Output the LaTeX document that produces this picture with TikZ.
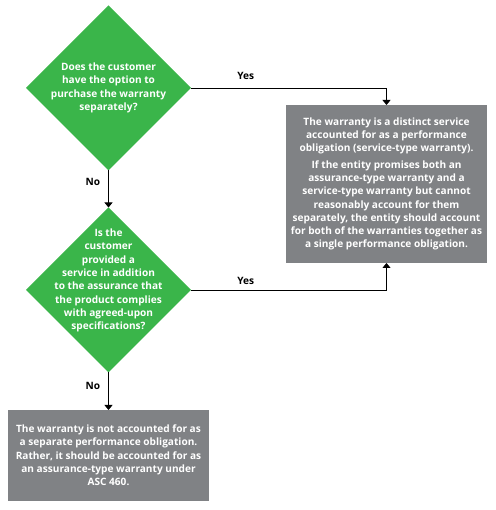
\documentclass[tikz,border=0pt]{standalone}
\usepackage{fontspec}
\setmainfont{Open Sans}
\usetikzlibrary{positioning,arrows.meta,shapes.geometric}
\definecolor{dgreen}{HTML}{3AB54A}
\definecolor{dgray}{HTML}{808285}
\tikzset{q/.style={diamond,fill=dgreen,minimum width=165pt,minimum height=165pt,inner sep=0pt},
            qt/.style={text=white,align=center,inner sep=0pt,font=\bfseries\fontsize{10.1}{13.3}\selectfont},
            r/.style={rectangle,fill=dgray,text=white,align=center,inner sep=0pt,font=\bfseries\fontsize{10.1}{13.3}\selectfont},
            lbl/.style={font=\bfseries\fontsize{10.1}{12}\selectfont},
            arr/.style={-{Triangle[width=8pt,length=5pt]},line width=0.9pt}, outer sep=0pt}

\begin{document}
\begin{tikzpicture}[x=1pt,y=1pt]
\useasboundingbox (0,0) rectangle (495,510);
\node[q] at (108.5,422)(1){};
\node[qt] at (1)(1t){Does the customer\\have the option to\\purchase the warranty\\separately?};
\node[q] at (108.5,220)(2){};
\node[qt] at (108.5,229.5)(2t){Is the\\customer\\provided a\\service in addition\\to the assurance that\\the product complies\\with agreed-upon\\specifications?};
\node[r, minimum width=201pt, minimum height=158pt] at (386.5,326)(3){The warranty is a distinct service\\accounted for as a performance\\obligation (service-type warranty).\\[3pt]If the entity promises both an\\assurance-type warranty and a\\service-type warranty but cannot\\reasonably account for them\\separately, the entity should account\\for both of the warranties together as\\a single performance obligation.};
\node[r, minimum width=201pt, minimum height=91pt] at (108.5,54.5)(4){The warranty is not accounted for as\\a separate performance obligation.\\Rather, it should be accounted for as\\an assurance-type warranty under\\ASC 460.};
\draw[arr] (1.south) -- node[lbl,left=5pt,pos=0.32]{No} (2.north);
\draw[arr] (1.east) -| node[lbl,above=5.5pt,pos=0.14]{Yes} (3.north);
\draw[arr] (2.east) -| node[lbl,above=2.5pt,pos=0.14]{Yes} (3.south);
\draw[arr] (2.south) -- node[lbl,left=5pt,pos=0.35]{No} (4.north);
\end{tikzpicture}
\end{document}
